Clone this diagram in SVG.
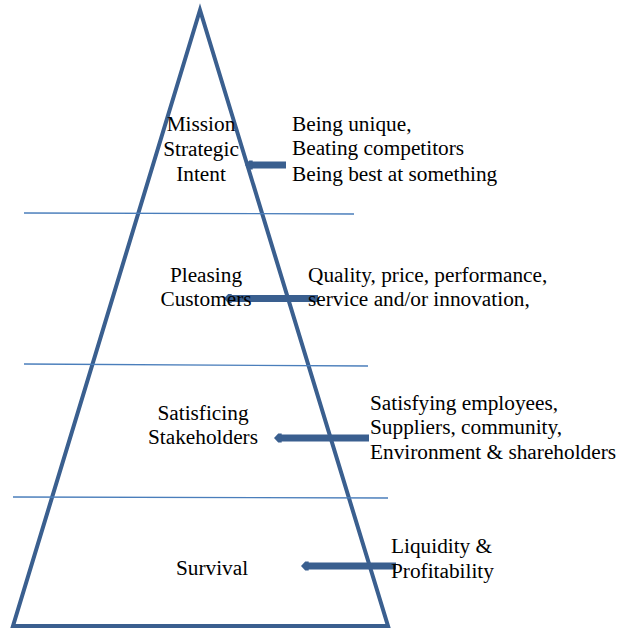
<svg xmlns="http://www.w3.org/2000/svg" width="619" height="630" viewBox="0 0 619 630">
<style>
.tri{fill:none;stroke:#3a5f8f;stroke-width:4;stroke-linejoin:miter}
.div{stroke:#4a7ebb;stroke-width:1.3}
.arr{stroke:#3a5f8f;stroke-width:7;marker-end:url(#head)}
.c{text-anchor:middle}
</style>
<defs>
<marker id="head" markerWidth="1.3" markerHeight="1.6" refX="0.3" refY="0.8" orient="auto" markerUnits="strokeWidth">
<path d="M0,0.15 L0.5,0.15 L1.1,0.8 L0.5,1.45 L0,1.45 Z" fill="#3a5f8f"/>
</marker>
</defs>
<g id="pyramid"><path class="tri" d="M200,10 L388,626 L13,626 Z"/></g>
<g id="dividers">
<line class="div" x1="24" y1="213" x2="354" y2="214"/>
<line class="div" x1="24" y1="364" x2="368" y2="366"/>
<line class="div" x1="13" y1="497" x2="388" y2="498"/>
</g>
<g id="connectors">
<line class="arr" x1="286" y1="165" x2="250.6" y2="165"/>
<line class="arr" x1="318" y1="298.5" x2="229.6" y2="298.5"/>
<line class="arr" x1="369" y1="438" x2="279.6" y2="438"/>
<line class="arr" x1="396" y1="566" x2="306.6" y2="566"/>
</g>
<g font-family="Liberation Serif, Times New Roman, serif" font-size="21.3" fill="#000">
<g id="mission">
<text class="c" x="201" y="131">Mission</text>
<text class="c" x="201" y="156">Strategic</text>
<text class="c" x="201" y="181">Intent</text>
</g>
<g id="mission-desc">
<text x="292" y="131">Being unique,</text>
<text x="292" y="155">Beating competitors</text>
<text x="292" y="181">Being best at something</text>
</g>
<g id="customers">
<text class="c" x="206" y="282">Pleasing</text>
<text class="c" x="206" y="306">Customers</text>
</g>
<g id="customers-desc">
<text x="308" y="282">Quality, price, performance,</text>
<text x="308" y="306">service and/or innovation,</text>
</g>
<g id="stakeholders">
<text class="c" x="203" y="420">Satisficing</text>
<text class="c" x="203" y="444">Stakeholders</text>
</g>
<g id="stakeholders-desc">
<text x="370" y="410">Satisfying employees,</text>
<text x="370" y="434">Suppliers, community,</text>
<text x="370" y="459">Environment &amp; shareholders</text>
</g>
<g id="survival">
<text class="c" x="212" y="575">Survival</text>
</g>
<g id="survival-desc">
<text x="391" y="553">Liquidity &amp;</text>
<text x="391" y="578">Profitability</text>
</g>
</g>
</svg>
